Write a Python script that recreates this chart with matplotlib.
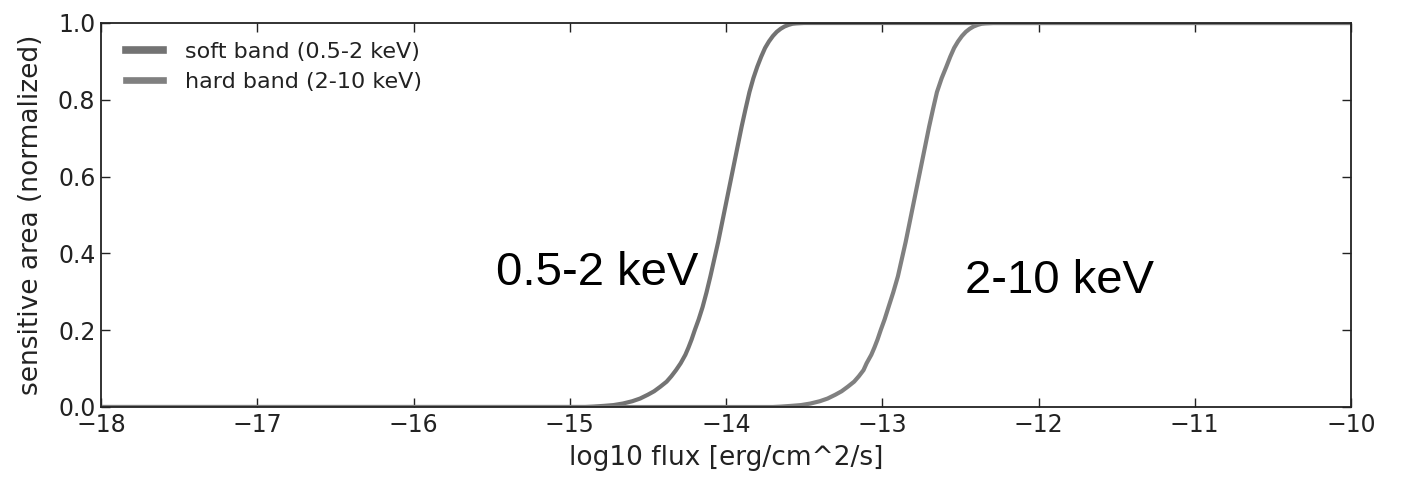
import numpy as np
import matplotlib
matplotlib.use("Agg")
import matplotlib.pyplot as plt

# sensitivity curves, read by hand (x: log10 flux in erg/cm^2/s)
soft_logflux = [-18.0, -14.90, -14.85, -14.78, -14.72, -14.66, -14.60, -14.55, -14.50,
                -14.46, -14.42, -14.38, -14.35, -14.32, -14.29, -14.26, -14.24,
                -14.22, -14.20, -14.175, -14.15, -14.125, -14.10, -14.05, -14.00,
                -13.95, -13.90, -13.875, -13.85, -13.825, -13.80, -13.775, -13.75,
                -13.725, -13.70, -13.675, -13.65, -13.625, -13.60, -13.575, -13.55,
                -13.50, -10.0]
soft_area = [0.0, 0.0, 0.001, 0.003, 0.005, 0.009, 0.015, 0.022, 0.032,
             0.041, 0.053, 0.066, 0.080, 0.096, 0.114, 0.136, 0.155,
             0.176, 0.200, 0.228, 0.260, 0.298, 0.340, 0.430, 0.530,
             0.630, 0.730, 0.776, 0.820, 0.856, 0.886, 0.912, 0.935,
             0.952, 0.966, 0.977, 0.985, 0.991, 0.995, 0.998, 0.999,
             1.0, 1.0]

hard_logflux = [-18.0, -13.70, -13.65, -13.58, -13.52, -13.46, -13.40, -13.35, -13.30,
                -13.26, -13.22, -13.18, -13.15, -13.12, -13.10, -13.07, -13.05,
                -13.03, -13.01, -12.985, -12.96, -12.93, -12.90, -12.85, -12.80,
                -12.75, -12.70, -12.675, -12.65, -12.62, -12.59, -12.565, -12.54,
                -12.515, -12.49, -12.465, -12.44, -12.415, -12.39, -12.365, -12.34,
                -12.29, -10.0]
hard_area = [0.0, 0.0, 0.001, 0.003, 0.005, 0.009, 0.015, 0.022, 0.032,
             0.041, 0.053, 0.066, 0.080, 0.096, 0.114, 0.136, 0.155,
             0.176, 0.200, 0.228, 0.260, 0.298, 0.340, 0.430, 0.530,
             0.630, 0.730, 0.776, 0.820, 0.856, 0.886, 0.912, 0.935,
             0.952, 0.966, 0.977, 0.985, 0.991, 0.995, 0.998, 0.999,
             1.0, 1.0]

legend_labels = ["soft band (0.5-2 keV)", "hard band (2-10 keV)"]
band_notes = ["0.5-2 keV", "2-10 keV"]
note_pos = [(-15.47, 0.318), (-12.47, 0.296)]

fig = plt.figure(figsize=(14.06, 4.78), dpi=100)
ax = fig.add_axes([101 / 1406, 1 - 407 / 478, 1250 / 1406, 384 / 478])

ax.plot(soft_logflux, soft_area, color="0.45", lw=3.0, label=legend_labels[0])
ax.plot(hard_logflux, hard_area, color="0.5", lw=3.0, label=legend_labels[1])

ax.set_xlim(-18, -10)
ax.set_ylim(0, 1)
ax.set_yticks(np.arange(0, 1.01, 0.2))
ax.yaxis.set_major_formatter(matplotlib.ticker.FormatStrFormatter("%.1f"))
ax.tick_params(direction="in", length=6.5, width=1.0, top=True, right=True,
               labelsize=17, pad=4, colors="#222222")
for sp in ax.spines.values():
    sp.set_linewidth(1.3)
    sp.set_color("#222222")

ax.set_xlabel("log10 flux [erg/cm^2/s]", fontsize=19, color="#222222", labelpad=6)
ax.set_ylabel("sensitive area (normalized)", fontsize=19, color="#222222", labelpad=10)

leg = ax.legend(loc="upper left", bbox_to_anchor=(0.02, 0.95), frameon=False,
                fontsize=16, handlelength=1.65, handletextpad=1.0,
                labelspacing=0.45, borderpad=0, borderaxespad=0)
for line, w in zip(leg.get_lines(), [5.5, 4.8]):
    line.set_linewidth(w)
for t in leg.get_texts():
    t.set_color("#222222")

for txt, (x, y) in zip(band_notes, note_pos):
    ax.text(x, y, txt, fontsize=34, family="Liberation Sans",
            ha="left", va="baseline", color="black")

fig.savefig("out.png", dpi=100)
